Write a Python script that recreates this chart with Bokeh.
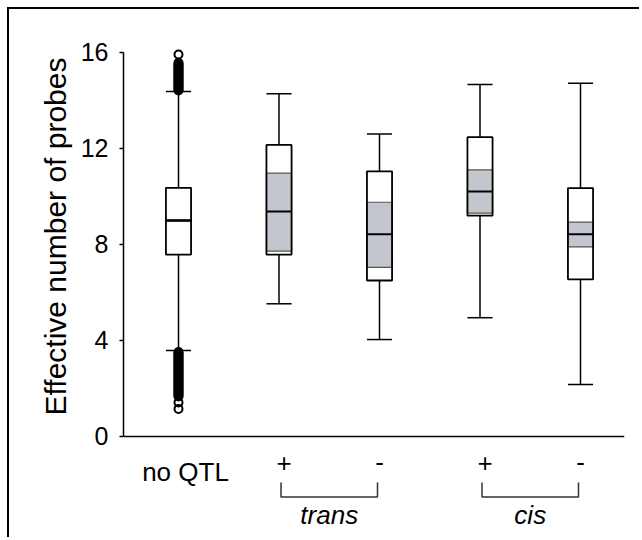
from bokeh.plotting import figure
from bokeh.models import Range1d, FixedTicker, Span, Title, ColumnDataSource
from bokeh.core.properties import value
from bokeh.embed import file_html
from bokeh.resources import INLINE

# ---- data ----
categories = ["no QTL", "+", "-", "+", "-"]
positions = [1, 2, 3, 4, 5]
lower_whisker = [3.58, 5.53, 4.04, 4.95, 2.17]
q1 = [7.58, 7.58, 6.50, 9.20, 6.55]
ci_low = [8.96, 7.72, 7.05, 9.31, 7.90]
median = [9.00, 9.375, 8.43, 10.21, 8.43]
ci_high = [9.04, 10.97, 9.76, 11.11, 8.93]
q3 = [10.36, 12.15, 11.05, 12.47, 10.35]
upper_whisker = [14.375, 14.28, 12.60, 14.67, 14.72]

# outliers of the "no QTL" group (densely packed in the picture)
outliers_high = [14.42, 14.47, 14.52, 14.57, 14.62, 14.67, 14.72, 14.77, 14.82,
                 14.87, 14.92, 14.97, 15.02, 15.07, 15.12, 15.17, 15.22, 15.27,
                 15.32, 15.37, 15.42, 15.47, 15.52, 15.57, 15.92]
outliers_low = [3.52, 3.47, 3.42, 3.37, 3.32, 3.27, 3.22, 3.17, 3.12, 3.07, 3.02,
                2.97, 2.92, 2.87, 2.82, 2.77, 2.72, 2.67, 2.62, 2.57, 2.52, 2.47,
                2.42, 2.37, 2.32, 2.27, 2.22, 2.17, 2.12, 2.07, 2.02, 1.97, 1.92,
                1.87, 1.82, 1.77, 1.72, 1.67, 1.42, 1.15]

groups = ["trans", "cis"]
group_start = [2, 4]
group_end = [3, 5]

y_ticks = [0, 4, 8, 12, 16]
y_title = "Effective number of probes"

# ---- styles ----
FONT = "Liberation Sans"
BOX_W = 0.25
GRAY = "#c3c6cc"

p = figure(width=632, height=530, output_backend="svg", toolbar_location=None,
           x_range=Range1d(0.4527, 5.4378), y_range=Range1d(-4.2917, 16.5),
           x_axis_location=None, min_border_left=114, min_border_right=17,
           min_border_top=31, min_border_bottom=0)
p.styles = {"margin-left": "7px", "margin-top": "7px",
            "border-top": "2px solid black", "border-left": "2px solid black"}
p.grid.visible = False
p.outline_line_color = None
p.background_fill_color = "white"
p.border_fill_color = "white"

ax = p.yaxis[0]
ax.bounds = (0, 16)
ax.ticker = FixedTicker(ticks=y_ticks, minor_ticks=[])
ax.major_tick_out = 4
ax.major_tick_in = 0
ax.major_tick_line_width = 1.5
ax.major_tick_line_color = "black"
ax.axis_line_width = 1.5
ax.axis_line_color = "black"
ax.major_label_text_font = FONT
ax.major_label_text_font_size = "25px"
ax.major_label_text_color = "black"
ax.major_label_standoff = 11

# y axis title, placed beside the axis
p.add_layout(Title(text=y_title, align="left", offset=124, standoff=12,
                   text_font=FONT, text_font_size="30px", text_font_style="normal",
                   text_color="black"), "left")

# x axis line at zero
p.add_layout(Span(location=0, dimension="width", line_color="black", line_width=1.5))

src = ColumnDataSource(dict(x=positions, lw=lower_whisker, q1=q1, cil=ci_low,
                            med=median, cih=ci_high, q3=q3, uw=upper_whisker))

# whiskers
p.segment(x0="x", y0="lw", x1="x", y1="q1", source=src, line_color="black", line_width=1.5)
p.segment(x0="x", y0="q3", x1="x", y1="uw", source=src, line_color="black", line_width=1.5)
# caps
cap_l = [x - BOX_W / 2 for x in positions]
cap_r = [x + BOX_W / 2 for x in positions]
p.segment(x0=cap_l, y0=lower_whisker, x1=cap_r, y1=lower_whisker, line_color="black", line_width=1.5)
p.segment(x0=cap_l, y0=upper_whisker, x1=cap_r, y1=upper_whisker, line_color="black", line_width=1.5)

# outliers
p.scatter(x=[positions[0]] * len(outliers_high), y=outliers_high, size=8, marker="circle",
          line_color="black", line_width=2, fill_color=None)
p.scatter(x=[positions[0]] * len(outliers_low), y=outliers_low, size=8, marker="circle",
          line_color="black", line_width=2, fill_color=None)

# boxes
p.vbar(x="x", width=BOX_W, bottom="q1", top="q3", source=src, fill_color="white",
       line_color=None)
p.vbar(x="x", width=BOX_W, bottom="cil", top="cih", source=src, fill_color=GRAY,
       line_color="#555555", line_width=1.2)
p.vbar(x="x", width=BOX_W, bottom="q1", top="q3", source=src, fill_color=None,
       line_color="black", line_width=1.8)
# medians
p.segment(x0=cap_l, y0=median, x1=cap_r, y1=median, line_color="black", line_width=2)

# category labels below the axis
label_y = [-1.47 if t == "no QTL" else (-1.08 if t == "-" else -1.12) for t in categories]
label_dx = [7 if t == "no QTL" else (5 if t == "+" else 0) for t in categories]
p.text(x=positions, y=label_y, text=categories, x_offset=label_dx,
       text_align="center", text_baseline="alphabetic",
       text_font=value(FONT), text_font_size="26px", text_color="black")

# brackets
bx, by = [], []
for s, e in zip(group_start, group_end):
    bx.append([s + 0.02, s + 0.02, e - 0.02, e - 0.02])
    by.append([-1.92, -2.52, -2.52, -1.92])
p.multi_line(xs=bx, ys=by, line_color="#333333", line_width=1.5)

# group names
gx = [(s + e) / 2 for s, e in zip(group_start, group_end)]
p.text(x=gx, y=[-3.29] * len(groups), text=groups, text_align="center",
       text_baseline="alphabetic", text_font=value(FONT), text_font_size="26px",
       text_font_style="italic", text_color="black")

open("out.html", "w").write(file_html(p, INLINE))
